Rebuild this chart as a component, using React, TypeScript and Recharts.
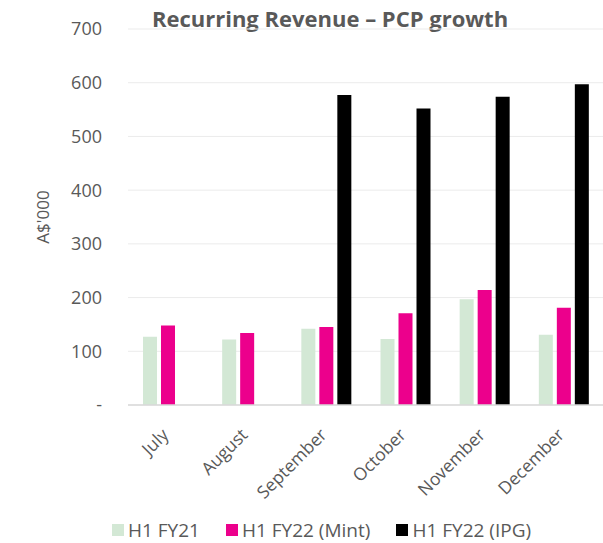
import { Bar, BarChart, CartesianGrid, Legend, XAxis, YAxis, Label } from "recharts";

const months = ["July", "August", "September", "October", "November", "December"];
const fy21 = [127, 122, 142, 123, 197, 131];
const fy22Mint = [148, 134, 145, 171, 214, 181];
const fy22Ipg = [null, null, 577, 552, 574, 597];
const yTicks = [0, 100, 200, 300, 400, 500, 600, 700];

const FONT = "'Open Sans', 'Noto Sans', sans-serif";
const GREY = "#595959";

const series = [
  { key: "fy21", name: "H1 FY21", color: "#d3e8d5" },
  { key: "mint", name: "H1 FY22 (Mint)", color: "#ec008c" },
  { key: "ipg", name: "H1 FY22 (IPG)", color: "#000000" },
];

const data = months.map((m, i) => ({
  month: m,
  fy21: fy21[i],
  mint: fy22Mint[i],
  ipg: fy22Ipg[i],
}));

function MonthTick(props: any) {
  const { x, y, payload } = props;
  return (
    <g transform={`translate(${x + 2},${y + 23})`}>
      <text
        textAnchor="end"
        transform="rotate(-45)"
        fill={GREY}
        fontSize={17.5}
        fontFamily={FONT}
      >
        {payload.value}
      </text>
    </g>
  );
}

function LegendRow() {
  return (
    <div
      style={{
        display: "flex",
        gap: 26,
        fontFamily: FONT,
        fontSize: 19,
        lineHeight: "24px",
        color: GREY,
        marginLeft: 112,
      }}
    >
      {series.map((s) => (
        <div key={s.key} style={{ display: "flex", alignItems: "center" }}>
          <span
            style={{
              display: "inline-block",
              width: 12,
              height: 12,
              background: s.color,
              marginRight: 4,
            }}
          />
          {s.name}
        </div>
      ))}
    </div>
  );
}

export default function App() {
  return (
    <div style={{ position: "absolute", left: 0, top: 0, width: 603, height: 543, background: "#fff" }}>
      <div
        style={{
          position: "absolute",
          left: 80,
          width: 500,
          top: 3,
          textAlign: "center",
          fontFamily: FONT,
          fontWeight: 700,
          fontSize: 22,
          color: GREY,
        }}
      >
        Recurring Revenue – PCP growth
      </div>
      <BarChart
        width={603}
        height={543}
        data={data}
        margin={{ top: 29, right: 0, left: 0, bottom: 0 }}
        barSize={14}
        barGap={4}
      >
        <CartesianGrid vertical={false} stroke="#ebebeb" strokeWidth={1} />
        <XAxis
          dataKey="month"
          axisLine={{ stroke: "#d9d9d9", strokeWidth: 1.5 }}
          tickLine={false}
          height={113}
          interval={0}
          tick={<MonthTick />}
        />
        <YAxis
          domain={[0, 700]}
          ticks={yTicks}
          width={128}
          axisLine={false}
          tickLine={false}
          tickSize={0}
          tickMargin={26}
          tickFormatter={(v: number) => (v === 0 ? "-" : String(v))}
          tick={{ fill: GREY, fontSize: 18, fontFamily: FONT }}
        >
          <Label
            content={(p: any) => {
              const vb = p.viewBox;
              const cx = 42;
              const cy = vb.y + vb.height / 2;
              return (
                <text
                  x={cx}
                  y={cy}
                  transform={`rotate(-90, ${cx}, ${cy})`}
                  textAnchor="middle"
                  dominantBaseline="central"
                  fill={GREY}
                  fontSize={17}
                  fontFamily={FONT}
                >
                  A$'000
                </text>
              );
            }}
          />
        </YAxis>
        <Legend verticalAlign="bottom" height={25} content={() => <LegendRow />} />
        {series.map((s) => (
          <Bar
            key={s.key}
            dataKey={s.key}
            name={s.name}
            fill={s.color}
            isAnimationActive={false}
          />
        ))}
      </BarChart>
    </div>
  );
}
